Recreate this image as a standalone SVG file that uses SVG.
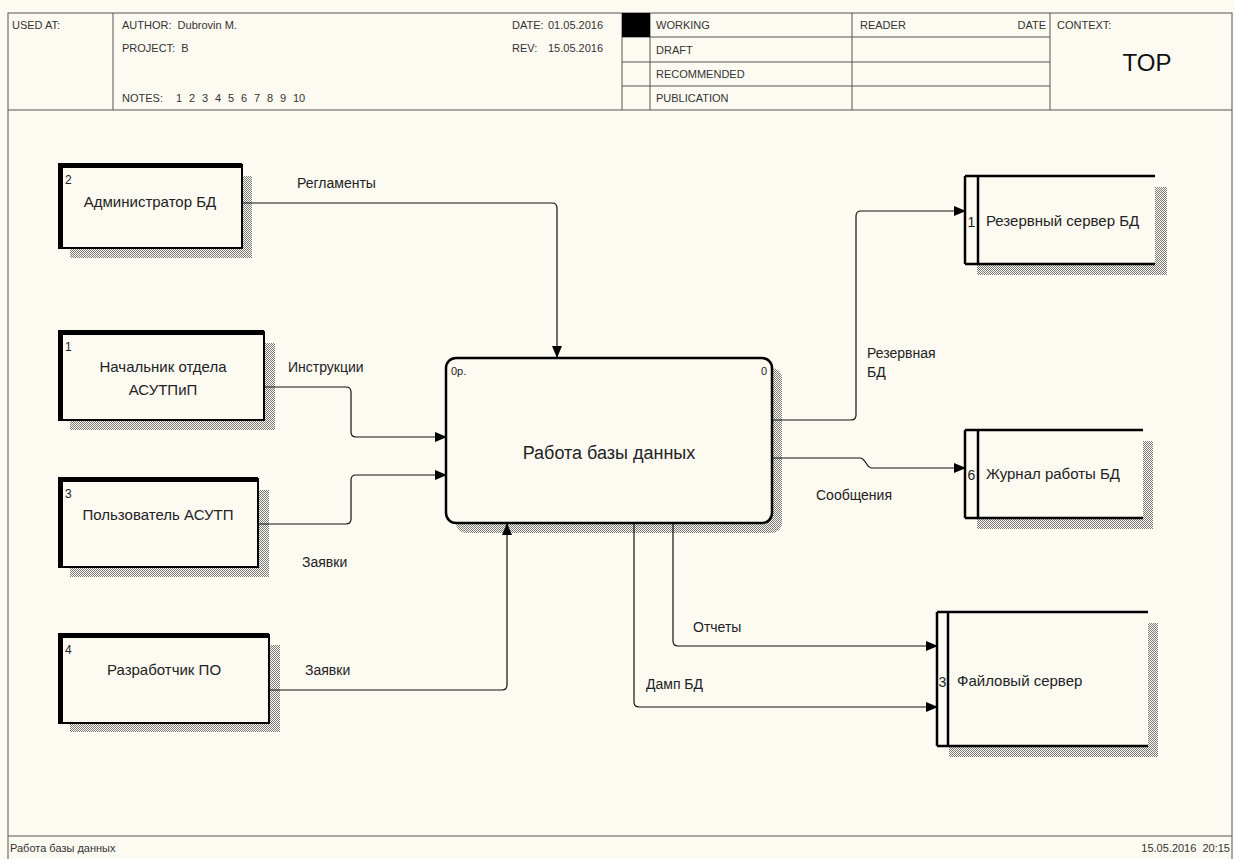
<svg xmlns="http://www.w3.org/2000/svg" width="1235" height="859" viewBox="0 0 1235 859">
<defs>
<pattern id="hatch" width="2" height="2" patternUnits="userSpaceOnUse">
<rect width="2" height="2" fill="#fdfaf2"/>
<rect width="1" height="1" fill="#7a7a7a"/>
<rect x="1" y="1" width="1" height="1" fill="#7a7a7a"/>
</pattern>
<marker id="arr" markerWidth="12" markerHeight="10" refX="11" refY="5" orient="auto" markerUnits="userSpaceOnUse">
<path d="M0,0 L12,5 L0,10 Z" fill="#000"/>
</marker>
<style>
.hdr{font-family:"Liberation Sans",Arial,sans-serif;font-size:11px;fill:#333;white-space:pre}
.ln{stroke:#555;stroke-width:1;fill:none}
.nl{font-family:"Liberation Sans",Arial,sans-serif;font-size:15px;fill:#222}
.num{font-family:"Liberation Sans",Arial,sans-serif;font-size:12px;fill:#222}
.snum{font-family:"Liberation Sans",Arial,sans-serif;font-size:14px;fill:#222}
.al{font-family:"Liberation Sans",Arial,sans-serif;font-size:14px;fill:#222}
.box{fill:#fdfaf2;stroke:#000;stroke-width:2}
.thick{fill:#000}
.shadow{fill:url(#hatch)}
.conn{fill:none;stroke:#111;stroke-width:1.2}
.sl{stroke:#000;stroke-width:2.5}
</style>
</defs>
<rect x="0" y="0" width="1235" height="859" fill="#fdfaf2"/>

<g id="frame">
<rect x="8" y="13" width="1224" height="860" class="ln"/>
<line x1="8" y1="110" x2="1232" y2="110" class="ln"/>
<line x1="113" y1="13" x2="113" y2="110" class="ln"/>
<line x1="622" y1="13" x2="622" y2="110" class="ln"/>
<line x1="650" y1="13" x2="650" y2="110" class="ln"/>
<line x1="852" y1="13" x2="852" y2="110" class="ln"/>
<line x1="1050" y1="13" x2="1050" y2="110" class="ln"/>
<line x1="622" y1="37" x2="1050" y2="37" class="ln"/>
<line x1="622" y1="62" x2="1050" y2="62" class="ln"/>
<line x1="622" y1="86" x2="1050" y2="86" class="ln"/>
<rect x="622" y="13" width="28" height="24" fill="#000"/>
<text x="12" y="29" class="hdr">USED AT:</text>
<text x="122" y="29" class="hdr">AUTHOR:  Dubrovin M.</text>
<text x="122" y="52" class="hdr">PROJECT:  B</text>
<text x="122" y="102" class="hdr">NOTES:<tspan x="176">1</tspan><tspan x="189">2</tspan><tspan x="202">3</tspan><tspan x="215">4</tspan><tspan x="228">5</tspan><tspan x="241">6</tspan><tspan x="254">7</tspan><tspan x="267">8</tspan><tspan x="280">9</tspan><tspan x="293">10</tspan></text>
<text x="512" y="29" class="hdr">DATE:<tspan x="548">01.05.2016</tspan></text>
<text x="512" y="52" class="hdr">REV:<tspan x="548">15.05.2016</tspan></text>
<text x="656" y="29" class="hdr">WORKING</text>
<text x="656" y="54" class="hdr">DRAFT</text>
<text x="656" y="78" class="hdr">RECOMMENDED</text>
<text x="656" y="102" class="hdr">PUBLICATION</text>
<text x="860" y="29" class="hdr">READER</text>
<text x="1046" y="29" class="hdr" text-anchor="end">DATE</text>
<text x="1057" y="29" class="hdr">CONTEXT:</text>
<text x="1147" y="71" text-anchor="middle" font-family="Liberation Sans, Arial, sans-serif" font-size="24" fill="#111">TOP</text>
<line x1="8" y1="836" x2="1232" y2="836" class="ln"/>
<text x="10" y="852" class="hdr">Работа базы данных</text>
<text x="1230" y="852" class="hdr" text-anchor="end">15.05.2016  20:15</text>
</g>

<g id="node-admin">
<rect x="70" y="176" width="182" height="82" class="shadow"/>
<rect x="59" y="165" width="183" height="83" class="box"/>
<rect x="58" y="163" width="184" height="5" class="thick"/>
<rect x="58" y="163" width="5" height="86" class="thick"/>
<text x="65" y="184" class="num">2</text>
<text x="150" y="207" text-anchor="middle" class="nl">Администратор БД</text>
</g>

<g id="node-chief">
<rect x="70" y="343" width="205" height="87" class="shadow"/>
<rect x="59" y="332" width="205" height="88" class="box"/>
<rect x="58" y="330" width="206" height="5" class="thick"/>
<rect x="58" y="330" width="5" height="91" class="thick"/>
<text x="65" y="351" class="num">1</text>
<text x="163" y="372" text-anchor="middle" class="nl">Начальник отдела</text>
<text x="163" y="395" text-anchor="middle" class="nl">АСУТПиП</text>
</g>

<g id="node-user">
<rect x="70" y="490" width="199" height="87" class="shadow"/>
<rect x="59" y="479" width="199" height="88" class="box"/>
<rect x="58" y="477" width="200" height="5" class="thick"/>
<rect x="58" y="477" width="5" height="91" class="thick"/>
<text x="65" y="498" class="num">3</text>
<text x="158" y="520" text-anchor="middle" class="nl">Пользователь АСУТП</text>
</g>

<g id="node-dev">
<rect x="70" y="645" width="210" height="87" class="shadow"/>
<rect x="59" y="635" width="210" height="88" class="box"/>
<rect x="58" y="633" width="211" height="5" class="thick"/>
<rect x="58" y="633" width="5" height="91" class="thick"/>
<text x="65" y="654" class="num">4</text>
<text x="164" y="675" text-anchor="middle" class="nl">Разработчик ПО</text>
</g>

<g id="node-main">
<rect x="456" y="368" width="326" height="165" rx="10" class="shadow"/>
<rect x="446" y="358" width="326" height="165" rx="10" fill="#fdfaf2" stroke="#000" stroke-width="2.5"/>
<text x="451" y="375" class="num" style="font-size:11px">0р.</text>
<text x="767" y="375" class="num" style="font-size:11px" text-anchor="end">0</text>
<text x="609" y="459" text-anchor="middle" font-family="Liberation Sans, Arial, sans-serif" font-size="18" fill="#222">Работа базы данных</text>
</g>

<g id="store-backup">
<rect x="977" y="187" width="190" height="88" class="shadow"/>
<rect x="965" y="176" width="190" height="88" fill="#fdfaf2"/>
<line x1="965" y1="176" x2="1155" y2="176" class="sl"/>
<line x1="965" y1="264" x2="1155" y2="264" class="sl"/>
<line x1="965" y1="176" x2="965" y2="264" class="sl"/>
<line x1="978" y1="176" x2="978" y2="264" class="sl"/>
<text x="971.5" y="227" class="snum" text-anchor="middle">1</text>
<text x="986" y="226" class="nl">Резервный сервер БД</text>
</g>

<g id="store-log">
<rect x="977" y="441" width="176" height="88" class="shadow"/>
<rect x="965" y="430" width="178" height="88" fill="#fdfaf2"/>
<line x1="965" y1="430" x2="1143" y2="430" class="sl"/>
<line x1="965" y1="518" x2="1143" y2="518" class="sl"/>
<line x1="965" y1="430" x2="965" y2="518" class="sl"/>
<line x1="978" y1="430" x2="978" y2="518" class="sl"/>
<text x="971.5" y="480" class="snum" text-anchor="middle">6</text>
<text x="986" y="479" class="nl">Журнал работы БД</text>
</g>

<g id="store-files">
<rect x="949" y="623" width="209" height="134" class="shadow"/>
<rect x="937" y="612" width="211" height="134" fill="#fdfaf2"/>
<line x1="937" y1="612" x2="1148" y2="612" class="sl"/>
<line x1="937" y1="746" x2="1148" y2="746" class="sl"/>
<line x1="937" y1="612" x2="937" y2="746" class="sl"/>
<line x1="948" y1="612" x2="948" y2="746" class="sl"/>
<text x="942.5" y="687" class="snum" text-anchor="middle">3</text>
<text x="957" y="686" class="nl">Файловый сервер</text>
</g>

<g id="connectors">
<path class="conn" d="M242,203 H552 Q557,203 557,208 V357" marker-end="url(#arr)"/>
<path class="conn" d="M264,387 H346 Q351,387 351,392 V432 Q351,437 356,437 H446" marker-end="url(#arr)"/>
<path class="conn" d="M258,524 H346 Q351,524 351,519 V480 Q351,475 356,475 H446" marker-end="url(#arr)"/>
<path class="conn" d="M269,690 H502 Q507,690 507,685 V524" marker-end="url(#arr)"/>
<path class="conn" d="M772,420 H851 Q856,420 856,415 V216 Q856,211 861,211 H965" marker-end="url(#arr)"/>
<path class="conn" d="M772,458 H860 C866,458 866,468 872,468 H965" marker-end="url(#arr)"/>
<path class="conn" d="M673,524 V641 Q673,646 678,646 H937" marker-end="url(#arr)"/>
<path class="conn" d="M634,524 V702 Q634,707 639,707 H937" marker-end="url(#arr)"/>
<text x="297" y="188" class="al">Регламенты</text>
<text x="288" y="372" class="al">Инструкции</text>
<text x="302" y="567" class="al">Заявки</text>
<text x="305" y="675" class="al">Заявки</text>
<text x="867" y="358" class="al">Резервная</text>
<text x="867" y="377" class="al">БД</text>
<text x="816" y="500" class="al">Сообщения</text>
<text x="693" y="632" class="al">Отчеты</text>
<text x="646" y="689" class="al">Дамп БД</text>
</g>
</svg>
